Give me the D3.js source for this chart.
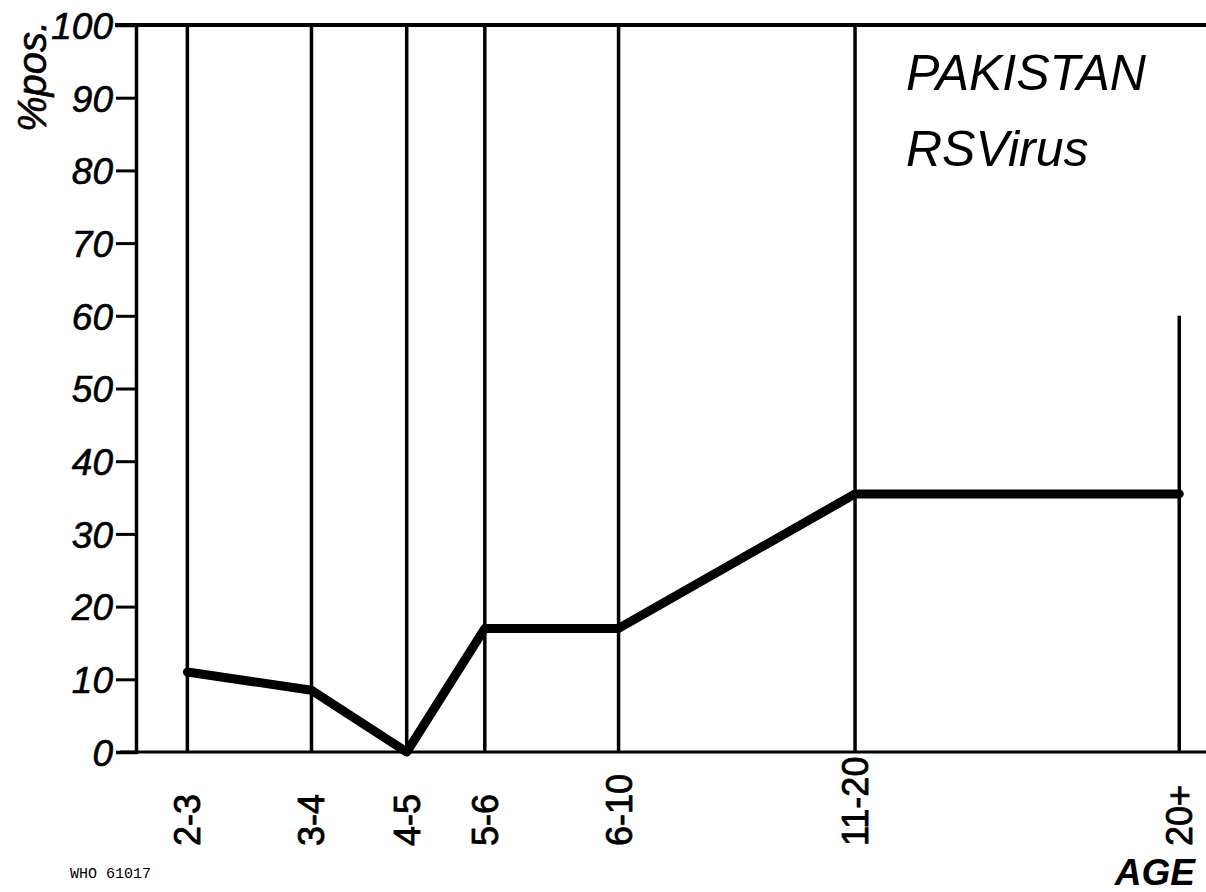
<!DOCTYPE html>
<html><head><meta charset="utf-8">
<script src="https://cdn.jsdelivr.net/npm/d3@7"></script>
<style>
html,body{margin:0;padding:0;background:#fff;}
svg{display:block;}
</style></head>
<body>
<svg id="chart" width="1206" height="892"></svg>
<script>
// ---- data ----
const ageGroups = ["2-3","3-4","4-5","5-6","6-10","11-20","20+"];
// position of each age group along the (non-uniform) age axis, 0–100 axis units
const agePos = [4.8, 16.4, 25.3, 32.6, 45.1, 67.2, 97.5];
// % positive for RS virus
const pctPos = [11, 8.5, 0, 17, 17, 35.5, 35.5];
// height (in %) reached by each vertical guide line
const guideTop = [100, 100, 100, 100, 100, 100, 60];
const yTicks = [0,10,20,30,40,50,60,70,80,90,100];

const svg = d3.select("#chart");
const x = d3.scaleLinear().domain([0,100]).range([136,1206]);
const y = d3.scaleLinear().domain([0,100]).range([752,25]);

const numFont = "'Liberation Sans', Arial, sans-serif";

// top border line
svg.append("line")
  .attr("x1", x(0)-21).attr("x2", x(100))
  .attr("y1", y(100)).attr("y2", y(100))
  .attr("stroke","#000").attr("stroke-width",4);

// bottom axis line
svg.append("line")
  .attr("x1", x(0)-16).attr("x2", x(100))
  .attr("y1", y(0)).attr("y2", y(0))
  .attr("stroke","#000").attr("stroke-width",3);

// y axis
const yAxis = d3.axisLeft(y).tickValues(yTicks).tickSize(20).tickPadding(3);
const gy = svg.append("g").attr("transform",`translate(${x(0)},0)`).call(yAxis);
gy.select(".domain").attr("stroke","#000").attr("stroke-width",3.5);
gy.selectAll(".tick line").attr("stroke","#000").attr("stroke-width",3);
gy.selectAll(".tick text")
  .attr("font-family", numFont).attr("font-style","italic")
  .attr("font-size",37).attr("fill","#000").attr("dy","0.36em")
  .attr("stroke","#000").attr("stroke-width",0.6);

// vertical guide lines
svg.selectAll("line.guide").data(ageGroups).enter().append("line")
  .attr("class","guide")
  .attr("x1",(d,i)=>x(agePos[i])).attr("x2",(d,i)=>x(agePos[i]))
  .attr("y1", y(0)).attr("y2",(d,i)=>y(guideTop[i]))
  .attr("stroke","#000").attr("stroke-width",3.5);

// x labels
svg.selectAll("text.xlab").data(ageGroups).enter().append("text")
  .attr("class","xlab")
  .attr("transform",(d,i)=>`translate(${x(agePos[i])+13},846) rotate(-90)`)
  .attr("font-family", numFont).attr("font-size",36).attr("fill","#000")
  .attr("stroke","#000").attr("stroke-width",0.8)
  .attr("text-anchor","start")
  .text(d=>d);

// data line
const line = d3.line().x((d,i)=>x(agePos[i])).y(d=>y(d));
svg.append("path").datum(pctPos)
  .attr("d", line).attr("fill","none")
  .attr("stroke","#000").attr("stroke-width",9)
  .attr("stroke-linejoin","round").attr("stroke-linecap","round");

// y label
svg.append("text")
  .attr("transform","translate(46,132) rotate(-90)")
  .attr("font-family", numFont).attr("font-style","italic")
  .attr("font-size",40).attr("fill","#000")
  .attr("stroke","#000").attr("stroke-width",0.6)
  .text("%pos.");

// title
svg.append("text").attr("x",906).attr("y",90)
  .attr("font-family", numFont).attr("font-style","italic")
  .attr("font-size",50).attr("fill","#000").text("PAKISTAN");
svg.append("text").attr("x",906).attr("y",166)
  .attr("font-family", numFont).attr("font-style","italic")
  .attr("font-size",50).attr("fill","#000").text("RSVirus");

// axis title
svg.append("text").attr("x",1195).attr("y",885)
  .attr("text-anchor","end")
  .attr("font-family", numFont).attr("font-style","italic").attr("font-weight","bold")
  .attr("font-size",37).attr("fill","#000").text("AGE");

// figure code
svg.append("text").attr("x",70).attr("y",878)
  .attr("font-family","'Liberation Mono', monospace")
  .attr("font-size",15).attr("fill","#000").text("WHO 61017");
</script>
</body></html>
